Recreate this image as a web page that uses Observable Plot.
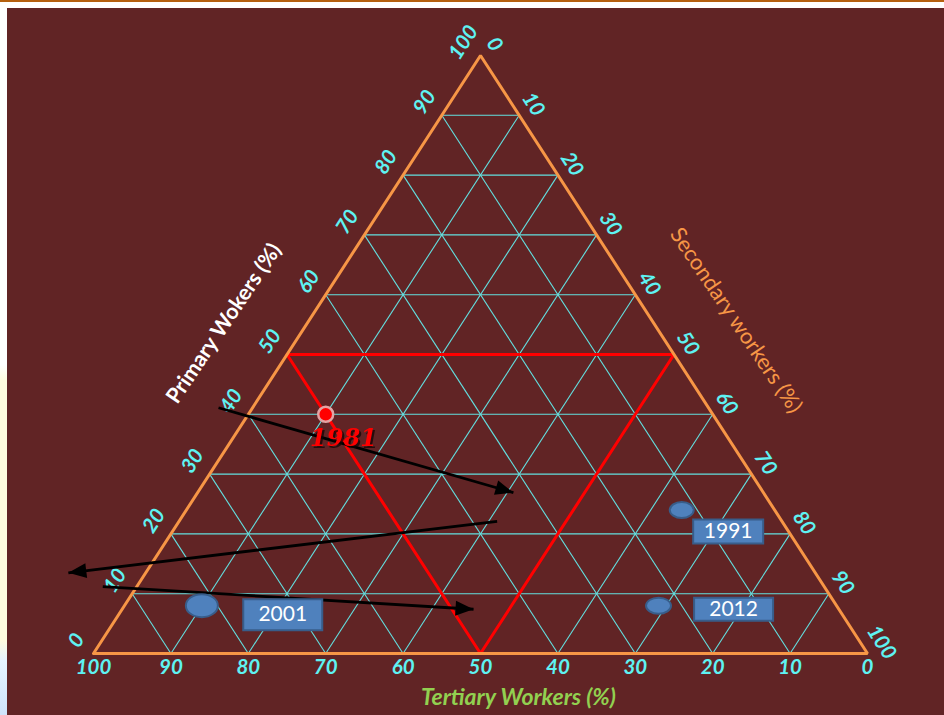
<!DOCTYPE html>
<html>
<head>
<meta charset="utf-8">
<script src="https://cdn.jsdelivr.net/npm/d3@7"></script>
<script src="https://cdn.jsdelivr.net/npm/@observablehq/plot@0.6"></script>
<style>
  html, body { margin: 0; padding: 0; }
  body {
    width: 944px; height: 715px; overflow: hidden; position: relative;
    background: linear-gradient(#ffffff 0px, #ffffff 365px, #fffde0 380px, #fffde0 640px, #e6f4ff 660px, #cfe4fb 715px);
  }
  #topline { position: absolute; left: 0; top: 0; width: 944px; height: 2px; background: #b5600f; }
  #whiteband { position: absolute; left: 0; top: 2px; width: 944px; height: 6px; background: #ffffff; }
  #chart { position: absolute; left: 7px; top: 8px; }
  #chart svg { display: block; }
  /* soft dark shadow behind the red year label */
  #chart g[fill="#ff0000"] text { filter: drop-shadow(2px 2px 0.6px rgba(20, 4, 4, 0.75)); }
</style>
</head>
<body>
<div id="topline"></div>
<div id="whiteband"></div>
<div id="chart"></div>
<script>
// Axis tick values (percent)
const ticks = [0, 10, 20, 30, 40, 50, 60, 70, 80, 90, 100];

// Workforce composition by census year (percent)
const years = [1981, 1991, 2001, 2012];
const primaryPct = [40, 24, 8, 8];
const secondaryPct = [10, 64, 10, 69];
const tertiaryPct = [50, 12, 82, 23];

// Callout anchors for each year label (primary %, secondary %)
const calloutP = [36, 20.4, 6.5, 7.4];
const calloutS = [14.3, 71.8, 21.2, 79.0];

// Trend arrows (primary %, secondary %), start and end
const arrowFromP = [41.1, 22.1, 11.2];
const arrowFromS = [-4.4, 41.1, -4.4];
const arrowToP = [26.9, 13.5, 7.4];
const arrowToS = [40.8, -10.0, 45.4];

// Axis titles
const titlePrimary = "Primary Wokers (%)";
const titleSecondary = "Secondary workers (%)";
const titleTertiary = "Tertiary Workers (%)";

// Ternary -> cartesian: apex = 100% primary, bottom-right = 100% secondary, bottom-left = 100% tertiary
const tx = (p, s) => s + p / 2;
const ty = (p) => p;

const W = 937, H = 707;
const margin = {left: 86, right: 77, top: 47, bottom: 62};
const xOpts = {domain: [0, 100], range: [margin.left, W - margin.right]};
const yOpts = {domain: [0, 100], range: [H - margin.bottom, margin.top]};
const xScale = Plot.scale({x: xOpts});
const yScale = Plot.scale({y: yOpts});

const points = years.map((year, i) => ({
  year, p: primaryPct[i], s: secondaryPct[i], t: tertiaryPct[i],
  cp: calloutP[i], cs: calloutS[i]
}));

const arrows = arrowFromP.map((_, i) => {
  const x1 = tx(arrowFromP[i], arrowFromS[i]), y1 = ty(arrowFromP[i]);
  const x2 = tx(arrowToP[i], arrowToS[i]), y2 = ty(arrowToP[i]);
  const angle = Math.atan2(yScale.apply(y2) - yScale.apply(y1), xScale.apply(x2) - xScale.apply(x1)) * 180 / Math.PI;
  return {x1, y1, x2, y2, angle};
});

// Grid lines at every 10%
const inner = ticks.filter(v => v > 0 && v < 100);
const grid = [];
for (const k of inner) {
  grid.push({x1: tx(k, 0), y1: ty(k), x2: tx(k, 100 - k), y2: ty(k)});             // constant primary
  grid.push({x1: tx(0, k), y1: ty(0), x2: tx(100 - k, k), y2: ty(100 - k)});       // constant secondary
  grid.push({x1: tx(0, 100 - k), y1: ty(0), x2: tx(100 - k, 0), y2: ty(100 - k)}); // constant tertiary
}

const outline = [[0, 0], [100, 0], [0, 100], [0, 0]].map(([p, s]) => ({x: tx(p, s), y: ty(p)}));
const half = [[50, 0], [50, 50], [0, 50], [50, 0]].map(([p, s]) => ({x: tx(p, s), y: ty(p)}));

// Custom symbols
const ellipse = (rx, ry) => ({
  draw(ctx) {
    const k = 0.5523;
    ctx.moveTo(rx, 0);
    ctx.bezierCurveTo(rx, ry * k, rx * k, ry, 0, ry);
    ctx.bezierCurveTo(-rx * k, ry, -rx, ry * k, -rx, 0);
    ctx.bezierCurveTo(-rx, -ry * k, -rx * k, -ry, 0, -ry);
    ctx.bezierCurveTo(rx * k, -ry, rx, -ry * k, rx, 0);
    ctx.closePath();
  }
});
const box = (w, h) => ({draw(ctx) { ctx.rect(-w / 2, -h / 2, w, h); }});
const arrowHead = {
  draw(ctx) { ctx.moveTo(0, 0); ctx.lineTo(-18, -7.5); ctx.lineTo(-18, 7.5); ctx.closePath(); }
};

const cyan = "#5ef2f2";
const gridCyan = "#63e0e0";
const orange = "#f79646";
const blue = "#4f81bd";
const blueEdge = "#385d8a";
const tickFont = {fontFamily: "Lato, 'Open Sans', sans-serif", fontSize: 20.5, fontWeight: "bold", fontStyle: "italic", fill: cyan};

const boxSize = {1991: [70, 24], 2001: [79, 31], 2012: [79, 23]};
const dotSize = {1991: [12, 8], 2001: [16, 11.5], 2012: [12.5, 8]};

const later = points.filter(d => d.year !== 1981);
const first = points.filter(d => d.year === 1981);

const marks = [
  // grid
  Plot.link(grid, {x1: "x1", y1: "y1", x2: "x2", y2: "y2", stroke: gridCyan, strokeWidth: 1.1}),
  // 50% reference triangle
  Plot.line(half, {x: "x", y: "y", stroke: "#ff0000", strokeWidth: 3, strokeLinejoin: "miter"}),
  // outer triangle
  Plot.line(outline, {x: "x", y: "y", stroke: orange, strokeWidth: 3, strokeLinejoin: "miter"}),

  // tick labels: primary (left edge), secondary (right edge), tertiary (bottom)
  Plot.text(ticks, {x: v => tx(v, 0), y: v => ty(v), text: v => String(v), dx: -17, dy: -13, rotate: -57, ...tickFont}),
  Plot.text(ticks, {x: v => tx(100 - v, v), y: v => ty(100 - v), text: v => String(v), dx: 14, dy: -11, rotate: 57, ...tickFont}),
  Plot.text(ticks, {x: v => tx(0, 100 - v), y: () => ty(0), text: v => String(v), dy: 14, ...tickFont}),

  // axis titles
  Plot.text([titlePrimary], {x: tx(50, 0), y: ty(50), text: d => d, dx: -63, dy: -31, rotate: -56,
    fill: "#ffffff", fontFamily: "Lato, sans-serif", fontSize: 21.5, fontWeight: "bold"}),
  Plot.text([titleSecondary], {x: tx(50, 50), y: ty(50), text: d => d, dx: 62, dy: -34, rotate: 56,
    fill: orange, fontFamily: "Lato, sans-serif", fontSize: 22}),
  Plot.text([titleTertiary], {x: tx(0, 50), y: ty(0), text: d => d, dx: 38, dy: 44,
    fill: "#92d050", fontFamily: "Lato, sans-serif", fontSize: 23, fontWeight: "bold", fontStyle: "italic"}),

  // trend arrows
  Plot.link(arrows, {x1: "x1", y1: "y1", x2: "x2", y2: "y2", stroke: "#000000", strokeWidth: 2.8}),
  Plot.dot(arrows, {x: "x2", y: "y2", rotate: "angle", symbol: arrowHead, fill: "#000000", stroke: "none"}),

  // 1981 point and label
  Plot.dot(first, {x: d => tx(d.p, d.s), y: d => ty(d.p), r: 7.5, fill: "#ff0000", stroke: "#e3a3a3", strokeWidth: 2.5}),
  Plot.text(first, {x: d => tx(d.cp, d.cs), y: d => ty(d.cp), text: d => String(d.year),
    fill: "#ff0000", fontFamily: "'DejaVu Serif', serif", fontSize: 24, fontWeight: "bold", fontStyle: "italic"}),

  // later years: ellipse markers and boxed labels
  ...later.map(d => Plot.dot([d], {x: d => tx(d.p, d.s), y: d => ty(d.p), symbol: ellipse(...dotSize[d.year]),
    fill: blue, stroke: blueEdge, strokeWidth: 2})),
  ...later.map(d => Plot.dot([d], {x: d => tx(d.cp, d.cs), y: d => ty(d.cp), symbol: box(...boxSize[d.year]),
    fill: blue, stroke: blueEdge, strokeWidth: 2})),
  Plot.text(later, {x: d => tx(d.cp, d.cs), y: d => ty(d.cp), text: d => String(d.year),
    fill: "#ffffff", fontFamily: "Lato, sans-serif", fontSize: 21})
];

const chart = Plot.plot({
  width: W,
  height: H,
  marginLeft: margin.left,
  marginRight: margin.right,
  marginTop: margin.top,
  marginBottom: margin.bottom,
  x: {...xOpts, axis: null},
  y: {...yOpts, axis: null},
  style: {background: "#612425", overflow: "visible"},
  marks
});

document.getElementById("chart").appendChild(chart);
</script>
</body>
</html>
